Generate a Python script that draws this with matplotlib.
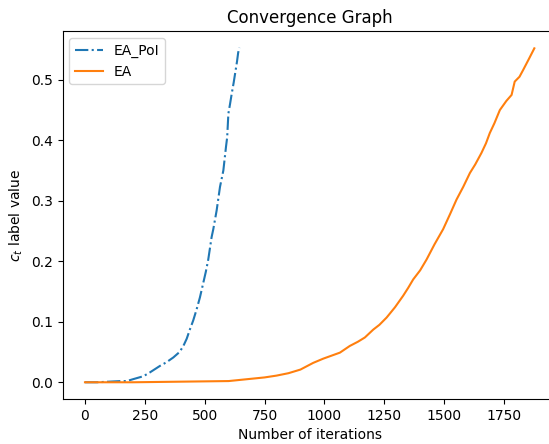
import matplotlib
matplotlib.use('Agg')
import matplotlib.pyplot as plt

# EA_PoI run
poi_iters = [0, 50, 100, 150, 175, 200, 244, 270, 313, 340, 369, 395, 411, 425,
             438, 452, 466, 480, 494, 505, 515, 529, 536, 550, 564, 578, 589, 594,
             599, 606, 613, 621, 629, 635, 640, 645]
poi_vals = [0, 0, 0.001, 0.002, 0.002, 0.005, 0.010, 0.016, 0.027, 0.033, 0.041,
            0.050, 0.060, 0.072, 0.087, 0.102, 0.120, 0.140, 0.164, 0.183, 0.203,
            0.240, 0.253, 0.284, 0.323, 0.350, 0.389, 0.405, 0.444, 0.460, 0.477,
            0.495, 0.515, 0.530, 0.545, 0.553]

# plain EA run
ea_iters = [0, 100, 200, 300, 400, 500, 600, 650, 700, 750, 800, 850, 900, 953,
            995, 1030, 1065, 1106, 1140, 1169, 1204, 1230, 1260, 1295, 1329, 1350,
            1371, 1400, 1427, 1460, 1496, 1525, 1552, 1580, 1608, 1630, 1656, 1675,
            1691, 1710, 1733, 1760, 1782, 1795, 1815, 1830, 1855, 1877]
ea_vals = [0, 0, 0, 0.0005, 0.001, 0.0015, 0.002, 0.004, 0.006, 0.008, 0.011,
           0.015, 0.021, 0.032, 0.039, 0.044, 0.049, 0.060, 0.067, 0.074, 0.087,
           0.095, 0.107, 0.124, 0.143, 0.156, 0.170, 0.185, 0.203, 0.228, 0.253,
           0.278, 0.302, 0.323, 0.346, 0.360, 0.379, 0.395, 0.412, 0.428, 0.450,
           0.465, 0.475, 0.497, 0.505, 0.516, 0.535, 0.552]

fig = plt.figure(figsize=(5.49, 4.44), dpi=100)
# axes run past the right edge, like the cropped original
ax = fig.add_axes([62.5 / 549, 45 / 444, 494.3 / 549, 368 / 444])
ax.plot(poi_iters, poi_vals, '-.', label='EA_PoI')
ax.plot(ea_iters, ea_vals, '-', label='EA')
ax.set_title('Convergence Graph')
ax.set_xlabel('Number of iterations')
ax.set_ylabel('$c_t$ label value')
ax.legend(loc='upper left')
plt.savefig('out.png', dpi=100)
